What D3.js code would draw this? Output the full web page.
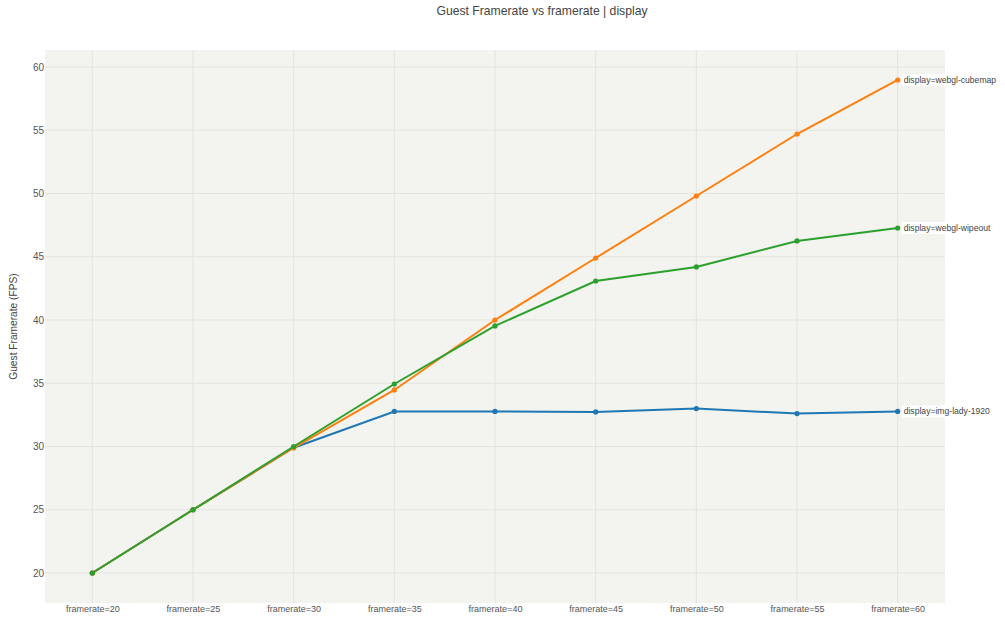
<!DOCTYPE html>
<html><head><meta charset="utf-8">
<script src="https://cdn.jsdelivr.net/npm/d3@7"></script>
<style>body{margin:0;background:#fff;font-family:"Liberation Sans",Arial,sans-serif;}</style>
</head><body><svg id="c" width="1005" height="619"></svg>
<script>
const categories = ["framerate=20","framerate=25","framerate=30","framerate=35","framerate=40","framerate=45","framerate=50","framerate=55","framerate=60"];
const ladyValues = [20, 25, 29.9, 32.77, 32.77, 32.73, 33.0, 32.6, 32.77];
const cubemapValues = [20, 25, 29.9, 34.47, 40.0, 44.9, 49.8, 54.7, 58.97];
const wipeoutValues = [20, 25, 30.0, 34.94, 39.53, 43.08, 44.19, 46.25, 47.27];
const yTicks = [20, 25, 30, 35, 40, 45, 50, 55, 60];
const seriesNames = ["display=img-lady-1920", "display=webgl-cubemap", "display=webgl-wipeout"];
const seriesColors = ["#1f77b4", "#ff7f0e", "#2ca02c"];
const series = [ladyValues, cubemapValues, wipeoutValues];

const svg = d3.select("#c");
const L = 45, R = 945, T = 50, B = 603;
const x = d3.scalePoint().domain(categories).range([L, R]).padding(0.47);
const y = d3.scaleLinear().domain([17.63, 61.34]).range([B, T]);

svg.append("rect").attr("x", L).attr("y", T).attr("width", R - L).attr("height", B - T).attr("fill", "#f3f3ef");

const g = svg.append("g");
g.selectAll(".vg").data(categories).enter().append("line")
  .attr("x1", d => x(d)).attr("x2", d => x(d)).attr("y1", T).attr("y2", B)
  .attr("stroke", "#e3e3df").attr("stroke-width", 1);
g.selectAll(".hg").data(yTicks).enter().append("line")
  .attr("x1", L).attr("x2", R).attr("y1", d => y(d)).attr("y2", d => y(d))
  .attr("stroke", "#e3e3df").attr("stroke-width", 1);

const yAxis = svg.append("g").attr("transform", `translate(${L - 1},0)`)
  .call(d3.axisLeft(y).tickValues(yTicks).tickSize(0).tickPadding(0));
yAxis.select(".domain").remove();
yAxis.selectAll("text").attr("fill", "#555").style("font-size", "10px").style("font-family", "Liberation Sans, Arial, sans-serif");

const xAxis = svg.append("g").attr("transform", `translate(0,${B})`)
  .call(d3.axisBottom(x).tickSize(0).tickPadding(3));
xAxis.select(".domain").remove();
xAxis.selectAll("text").attr("fill", "#555").style("font-size", "9px").style("font-family", "Liberation Sans, Arial, sans-serif");

const line = d3.line().x((d, i) => x(categories[i])).y(d => y(d));
series.forEach((vals, si) => {
  const sg = svg.append("g");
  sg.append("path").datum(vals).attr("d", line).attr("fill", "none")
    .attr("stroke", seriesColors[si]).attr("stroke-width", 2);
  sg.selectAll("circle").data(vals).enter().append("circle")
    .attr("cx", (d, i) => x(categories[i])).attr("cy", d => y(d)).attr("r", 2.6)
    .attr("fill", seriesColors[si]);
});

series.forEach((vals, si) => {
  const lx = x(categories[categories.length - 1]) + 4;
  const ly = y(vals[vals.length - 1]);
  const lg = svg.append("g");
  const t = lg.append("text").attr("x", lx + 2).attr("y", ly).attr("dy", "0.35em")
    .attr("fill", "#444").style("font-size", "8.6px").text(seriesNames[si]);
  const bb = t.node().getBBox();
  lg.insert("rect", "text").attr("x", lx).attr("y", bb.y - 1).attr("width", bb.width + 4).attr("height", bb.height + 2).attr("fill", "#fff");
});

svg.append("text").attr("x", 542).attr("y", 15).attr("text-anchor", "middle")
  .attr("fill", "#444").style("font-size", "12.2px").text("Guest Framerate vs framerate | display");

svg.append("text").attr("transform", `translate(17,${(T + B) / 2}) rotate(-90)`).attr("text-anchor", "middle")
  .attr("fill", "#444").style("font-size", "10.2px").text("Guest Framerate (FPS)");
</script></body></html>
